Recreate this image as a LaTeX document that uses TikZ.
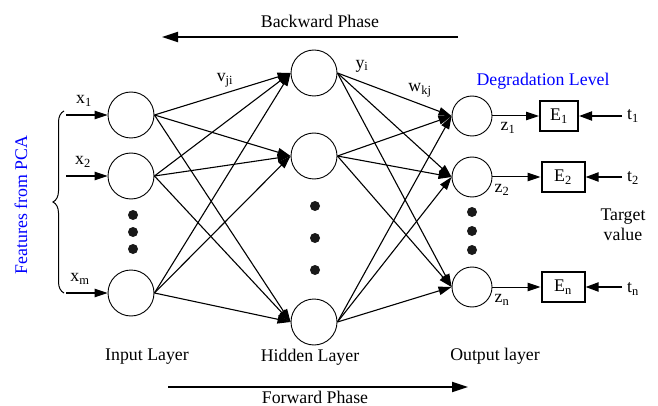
\documentclass[tikz,border=0pt]{standalone}
\usepackage{fontspec}
\setmainfont{Liberation Serif}
\usetikzlibrary{arrows.meta,decorations.pathreplacing}
\begin{document}
\begin{tikzpicture}[x=1pt,y=-1pt,
  font=\fontsize{17.8}{20}\selectfont,
  neuron/.style={circle,draw,line width=0.9pt,minimum size=46pt,inner sep=0pt},
  oneuron/.style={neuron,minimum size=40pt},
  ebox/.style={draw,line width=2pt,minimum height=30pt,inner sep=0pt},
  link/.style={line width=1.1pt,-{Triangle[length=13pt,width=8.5pt]}},
  phase/.style={line width=2pt,-{Triangle[length=16pt,width=10pt]}},
  target/.style={line width=2pt,-{Triangle[length=13pt,width=9pt]}},
  dot/.style={circle,fill=black!90,minimum size=10pt,inner sep=0pt},
  lbl/.style={inner sep=0pt},
  bluelbl/.style={lbl,text=blue}]
\useasboundingbox (0,0) rectangle (658,406);

% layers
\node[neuron] (i1) at (131,115) {};
\node[neuron] (i2) at (131,176) {};
\node[neuron] (i3) at (131,293) {};
\node[neuron] (h1) at (314,73) {};
\node[neuron] (h2) at (314,156) {};
\node[neuron] (h3) at (314,322) {};
\node[oneuron] (o1) at (472,116) {};
\node[oneuron] (o2) at (472,177) {};
\node[oneuron] (o3) at (472,287) {};

% ellipsis dots
\foreach \y [count=\k] in {215,232,249} \node[dot] (di\k) at (133,\y) {};
\foreach \y [count=\k] in {206,238,270} \node[dot] (dh\k) at (315,\y) {};
\foreach \y [count=\k] in {212,231,250} \node[dot] (do\k) at (472,\y) {};

% error boxes
\node[ebox,minimum width=38pt] (e1) at (559,116) {E\textsubscript{1}};
\node[ebox,minimum width=43pt] (e2) at (563,177) {E\textsubscript{2}};
\node[ebox,minimum width=43pt] (e3) at (563,287) {E\textsubscript{n}};

% fully connected weights
\foreach \a in {1,2,3}
  \foreach \b in {1,2,3} {
    \draw[link] (i\a.east) -- (h\b.west);
    \draw[link] (h\a.east) -- (o\b.west);
  }

% inputs
\coordinate (x1) at (66,115);
\coordinate (x2) at (66,176);
\coordinate (x3) at (66,293);
\foreach \k in {1,2,3} \draw[link] (x\k) -- (i\k.west);
\draw[line width=1pt,decorate,decoration={brace,amplitude=11pt}] (64,293) -- (64,111);
\node[bluelbl,rotate=90] (feat) at (21,205) {Features from PCA};
\node[lbl] (lx1) at (84,101) {x\textsubscript{1}};
\node[lbl] (lx2) at (83,162) {x\textsubscript{2}};
\node[lbl] (lx3) at (80,279) {x\textsubscript{m}};

% outputs
\foreach \k in {1,2,3} \draw[link,line width=1pt] (o\k.east) -- (e\k.west);
\node[lbl] (lz1) at (508,128) {z\textsubscript{1}};
\node[lbl] (lz2) at (502,190) {z\textsubscript{2}};
\node[lbl] (lz3) at (502,300) {z\textsubscript{n}};

% targets
\coordinate (t1) at (622,116);
\coordinate (t2) at (622,177);
\coordinate (t3) at (622,287);
\foreach \k in {1,2,3} \draw[target] (t\k) -- (e\k.east);
\node[lbl] (lt1) at (633,116) {t\textsubscript{1}};
\node[lbl] (lt2) at (633,178) {t\textsubscript{2}};
\node[lbl] (lt3) at (633,289) {t\textsubscript{n}};
\node[lbl,align=center] (tv) at (623,225) {Target\\value};

% weight labels
\node[lbl] (lv) at (225,80) {v\textsubscript{ji}};
\node[lbl] (ly) at (362,66) {y\textsubscript{i}};
\node[lbl] (lw) at (420,90) {w\textsubscript{kj}};
\node[bluelbl] (deg) at (543,81) {Degradation Level};

% layer names
\node[lbl] (ln1) at (147,357) {Input Layer};
\node[lbl] (ln2) at (310,357) {Hidden Layer};
\node[lbl] (ln3) at (495,356) {Output layer};

% training phases
\coordinate (bs) at (458,37);
\coordinate (be) at (162,37);
\draw[phase] (bs) -- (be);
\node[lbl] (bp) at (320,21) {Backward Phase};
\coordinate (fs) at (168,387);
\coordinate (fe) at (468,387);
\draw[phase] (fs) -- (fe);
\node[lbl] (fp) at (315,397) {Forward Phase};
\end{tikzpicture}
\end{document}
